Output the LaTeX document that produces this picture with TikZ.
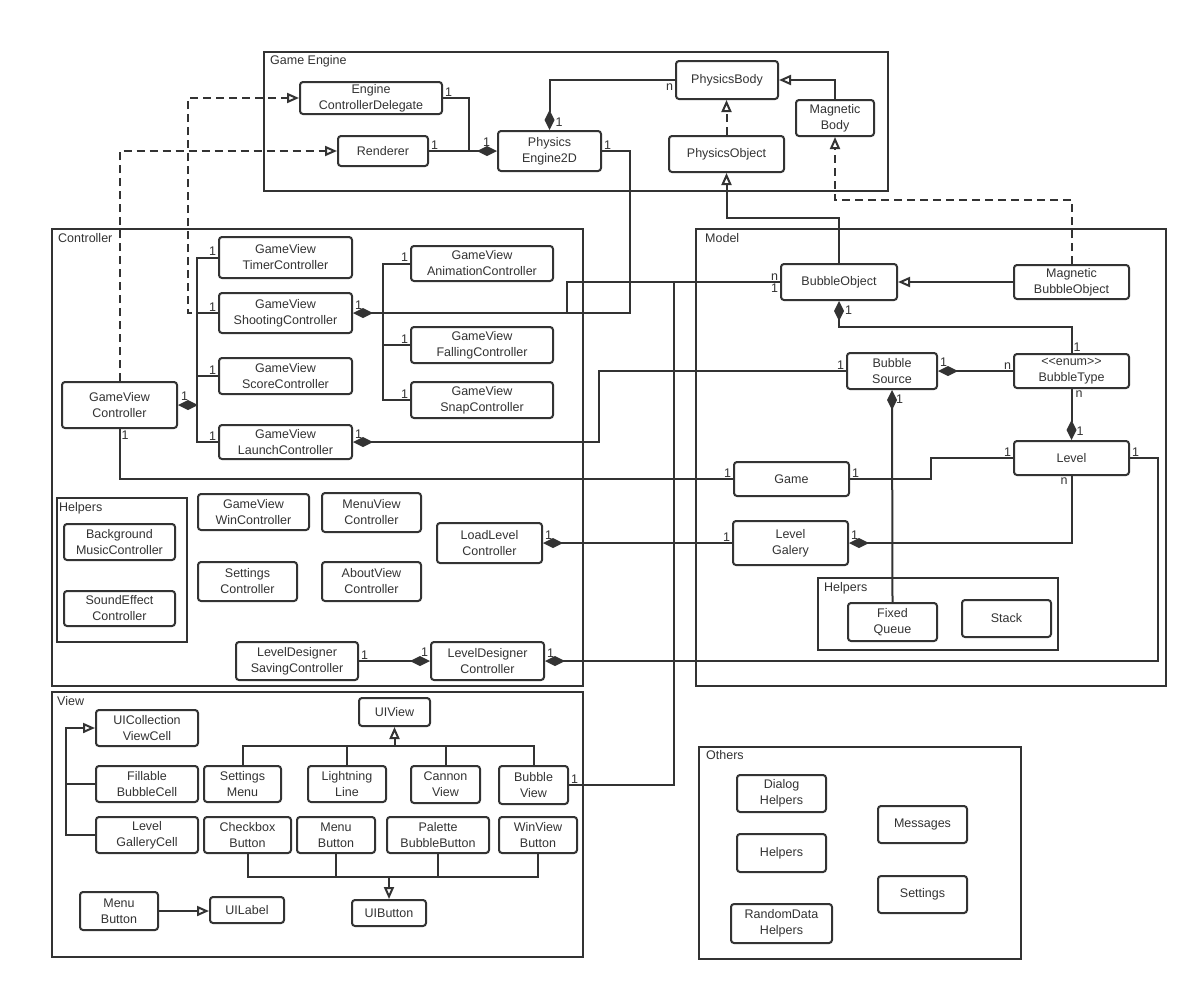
\documentclass[tikz,border=0pt]{standalone}
\usepackage{fontspec}
\setmainfont{Liberation Sans}
\usetikzlibrary{arrows.meta}
\definecolor{ln}{HTML}{333333}
\tikzset{
  cls/.style={draw=ln, line width=2pt, rounded corners=3pt, fill=white, align=center,
    inner sep=0pt, font=\fontsize{12.5}{16}\selectfont, text=ln},
  pkg/.style={draw=ln, line width=2pt, inner sep=0pt},
  pkglabel/.style={anchor=north west, inner sep=0pt, font=\fontsize{12.5}{15}\selectfont, text=ln},
  conn/.style={draw=ln, line width=2pt},
  comp/.style={conn, {Diamond[length=20pt,width=10pt]}-},
  gen/.style={conn, -{Triangle[open,length=12pt,width=10pt,fill=white]}},
  dep/.style={gen, dash pattern=on 8pt off 5pt},
  ml/.style={inner sep=1pt, font=\fontsize{12.5}{14}\selectfont, text=ln},
}
% [style]{name}{x1}{y1}{x2}{y2}{text}
\newcommand\ubox[7][cls]{\node[#1, minimum width={(#5-#3)*1pt}, minimum height={(#6-#4)*1pt}] (#2) at ({(#3+#5)/2},{(#4+#6)/2}) {#7};}
\begin{document}
\begin{tikzpicture}[x=1pt,y=-1pt]
\useasboundingbox (0,0) rectangle (1198,991);
\fill[white] (0,0) rectangle (1198,991);

% ---------------- packages ----------------
\ubox[pkg]{ge}{264}{52}{888}{191}{}
\node[pkglabel] (geL) at (270,55) {Game Engine};
\ubox[pkg]{ctl}{52}{229}{583}{686}{}
\node[pkglabel] (ctlL) at (58,233) {Controller};
\ubox[pkg]{chl}{57}{498}{187}{642}{}
\node[pkglabel] (chlL) at (59,502) {Helpers};
\ubox[pkg]{mdl}{696}{229}{1166}{686}{}
\node[pkglabel] (mdlL) at (705,233) {Model};
\ubox[pkg]{mhl}{818}{578}{1058}{650}{}
\node[pkglabel] (mhlL) at (824,582) {Helpers};
\ubox[pkg]{vw}{52}{692}{583}{957}{}
\node[pkglabel] (vwL) at (57,696) {View};
\ubox[pkg]{oth}{699}{747}{1021}{959}{}
\node[pkglabel] (othL) at (706,750) {Others};

% ---------------- Game Engine ----------------
\ubox{ecd}{300}{82}{442}{114}{Engine\\ControllerDelegate}
\ubox{ren}{338}{136}{428}{166}{Renderer}
\ubox{pe}{498}{131}{601}{171}{Physics\\Engine2D}
\ubox{pb}{676}{61}{778}{99}{PhysicsBody}
\ubox{mb}{796}{100}{874}{136}{Magnetic\\Body}
\ubox{po}{669}{136}{784}{172}{PhysicsObject}

% ---------------- Controller ----------------
\ubox{gvc}{62}{382}{177}{428}{GameView\\Controller}
\ubox{tim}{219}{237}{352}{278}{GameView\\TimerController}
\ubox{sho}{219}{293}{352}{333}{GameView\\ShootingController}
\ubox{sco}{219}{358}{352}{394}{GameView\\ScoreController}
\ubox{lau}{219}{425}{352}{459}{GameView\\LaunchController}
\ubox{ani}{411}{246}{553}{281}{GameView\\AnimationController}
\ubox{fal}{411}{327}{553}{363}{GameView\\FallingController}
\ubox{sna}{411}{382}{553}{418}{GameView\\SnapController}
\ubox{bgm}{64}{524}{175}{560}{Background\\MusicController}
\ubox{sfx}{64}{591}{175}{626}{SoundEffect\\Controller}
\ubox{gwc}{198}{494}{309}{530}{GameView\\WinController}
\ubox{mvc}{322}{493}{421}{532}{MenuView\\Controller}
\ubox{sec}{198}{562}{297}{601}{Settings\\Controller}
\ubox{avc}{322}{562}{421}{601}{AboutView\\Controller}
\ubox{llc}{437}{523}{542}{563}{LoadLevel\\Controller}
\ubox{lds}{236}{642}{358}{680}{LevelDesigner\\SavingController}
\ubox{ldc}{431}{642}{544}{680}{LevelDesigner\\Controller}

% ---------------- Model ----------------
\ubox{bo}{781}{264}{897}{300}{BubbleObject}
\ubox{mbo}{1014}{265}{1129}{299}{Magnetic\\BubbleObject}
\ubox{bs}{847}{353}{937}{389}{Bubble\\Source}
\ubox{bt}{1014}{354}{1129}{388}{\textless\kern0pt\textless enum\textgreater\kern0pt\textgreater\\BubbleType}
\ubox{level}{1014}{441}{1129}{475}{Level}
\ubox{game}{734}{462}{849}{496}{Game}
\ubox{lg}{733}{521}{848}{565}{Level\\Galery}
\ubox{fq}{848}{603}{937}{641}{Fixed\\Queue}
\ubox{stk}{962}{600}{1051}{637}{Stack}

% ---------------- View ----------------
\ubox{uic}{96}{710}{198}{746}{UICollection\\ViewCell}
\ubox{fbc}{96}{766}{198}{802}{Fillable\\BubbleCell}
\ubox{lgc}{96}{817}{198}{853}{Level\\GalleryCell}
\ubox{uiv}{359}{698}{430}{726}{UIView}
\ubox{sm}{204}{766}{281}{802}{Settings\\Menu}
\ubox{ll}{308}{766}{386}{802}{Lightning\\Line}
\ubox{cv}{411}{766}{480}{803}{Cannon\\View}
\ubox{bv}{499}{766}{568}{804}{Bubble\\View}
\ubox{cb}{204}{817}{291}{853}{Checkbox\\Button}
\ubox{mbt}{297}{817}{375}{853}{Menu\\Button}
\ubox{pbb}{387}{817}{489}{853}{Palette\\BubbleButton}
\ubox{wvb}{499}{817}{577}{853}{WinView\\Button}
\ubox{uib}{352}{900}{426}{926}{UIButton}
\ubox{mb2}{80}{892}{158}{930}{Menu\\Button}
\ubox{uil}{210}{897}{284}{923}{UILabel}

% ---------------- Others ----------------
\ubox{dh}{737}{775}{826}{812}{Dialog\\Helpers}
\ubox{hl}{737}{834}{826}{872}{Helpers}
\ubox{rdh}{731}{904}{832}{943}{RandomData\\Helpers}
\ubox{msg}{878}{806}{967}{843}{Messages}
\ubox{set}{878}{876}{967}{913}{Settings}

% ================= connectors =================
% Game engine
\draw[comp] (pe.west) node[ml,anchor=south east,xshift=-5pt,yshift=3pt]{1} -- (pe.west -| ren.east) node[ml,anchor=south west]{1};
\draw[conn] (ecd.east) node[ml,anchor=south west]{1} -| (pe.west -| 469,0);
\draw[comp] (pe.north) node[ml,anchor=south west,xshift=4pt,yshift=2pt]{1} |- (pb.west) node[ml,anchor=north east,yshift=-2pt]{n};
\draw[dep] (po.north) -- (po.north |- pb.south);
\draw[gen] (mb.north) |- (pb.east);
\draw[dep] (mbo.north) |- (mb.south |- 0,200) -- (mb.south);
\draw[gen] (bo.north) |- (po.south |- 0,218) -- (po.south);

% Controller: GameViewController composition bus
\coordinate (b1) at (gvc.east -| 197,0);
\draw[comp] (gvc.east) node[ml,anchor=south west,xshift=1pt,yshift=3pt]{1} -- (b1);
\draw[conn] (b1) |- (tim.west) node[ml,anchor=south east]{1};
\draw[conn] (b1) |- (sho.west) node[ml,anchor=south east]{1};
\draw[conn] (b1) |- (sco.west) node[ml,anchor=south east]{1};
\draw[conn] (b1) |- (lau.west) node[ml,anchor=south east]{1};

% Shooting controller composition bus
\coordinate (b2) at (sho.east -| 383,0);
\draw[comp] (sho.east) node[ml,anchor=south west,yshift=2pt]{1} -- (sho.east -| 630,0) |- (pe.east) node[ml,anchor=south west]{1};
\draw[conn] (b2) |- (ani.west) node[ml,anchor=south east]{1};
\draw[conn] (b2) |- (fal.west) node[ml,anchor=south east]{1};
\draw[conn] (b2) |- (sna.west) node[ml,anchor=south east]{1};
\draw[conn] (sho.east -| 567,0) |- (bo.west) node[ml,anchor=south east]{n} node[ml,anchor=north east]{1};

% dependencies (dashed)
\draw[dep] (sho.west) -- (sho.west -| 188,0) |- (ecd.west);
\draw[dep] (gvc.north) |- (ren.west);

% other controller links
\draw[comp] (lau.east) node[ml,anchor=south west,yshift=2pt]{1} -- (lau.east -| 599,0) |- (bs.west) node[ml,anchor=south east]{1};
\draw[conn] (gvc.south) node[ml,anchor=north west]{1} |- (game.west) node[ml,anchor=south east]{1};
\draw[comp] (llc.east) node[ml,anchor=south west,yshift=2pt]{1} -- (llc.east -| lg.west) node[ml,anchor=south east]{1};
\draw[comp] (ldc.west) node[ml,anchor=south east,yshift=3pt]{1} -- (ldc.west -| lds.east) node[ml,anchor=south west]{1};
\draw[comp] (ldc.east) node[ml,anchor=south west,yshift=2pt]{1} -- (ldc.east -| 1158,0) |- (level.east) node[ml,anchor=south west]{1};

% Model
\draw[gen] (mbo.west) -- (mbo.west -| bo.east);
\draw[comp] (bo.south) node[ml,anchor=north west,xshift=4pt,yshift=-3pt]{1} -- (bo.south |- 0,327) -| (bt.north) node[ml,anchor=south west]{1};
\draw[comp] (bs.east) node[ml,anchor=south west,yshift=3pt]{1} -- (bt.west) node[ml,anchor=south east]{n};
\draw[comp] (level.north) node[ml,anchor=south west,xshift=3pt,yshift=3pt]{1} -- (bt.south) node[ml,anchor=north west,xshift=2pt]{n};
\draw[conn] (game.east) node[ml,anchor=south west]{1} -- (game.east -| 931,0) |- (level.west) node[ml,anchor=south east]{1};
\draw[comp] (lg.east) node[ml,anchor=south west,yshift=2pt]{1} -| (level.south) node[ml,anchor=north east,xshift=-2pt]{n};
\draw[comp] (bs.south) node[ml,anchor=north west,xshift=2pt,yshift=-3pt]{1} -- (fq.north);

% View
\draw[conn] (bv.east) node[ml,anchor=south west]{1} -- (bv.east -| 674,0) |- (bo.west);
\coordinate (v1) at (uiv.south |- 0,746);
\draw[gen] (v1) -- (uiv.south);
\draw[conn] (sm.north) |- (v1);
\draw[conn] (ll.north) |- (v1);
\draw[conn] (cv.north) |- (v1);
\draw[conn] (bv.north) |- (v1);
\coordinate (v2) at (uib.north |- 0,877);
\draw[gen] (v2) -- (uib.north);
\draw[conn] (cb.south) |- (v2);
\draw[conn] (mbt.south) |- (v2);
\draw[conn] (pbb.south) |- (v2);
\draw[conn] (wvb.south) |- (v2);
\draw[gen] (fbc.west) -- (fbc.west -| 66,0) |- (uic.west);
\draw[conn] (lgc.west) -| (fbc.west -| 66,0);
\draw[gen] (mb2.east) -- (mb2.east -| uil.west);
\end{tikzpicture}
\end{document}
